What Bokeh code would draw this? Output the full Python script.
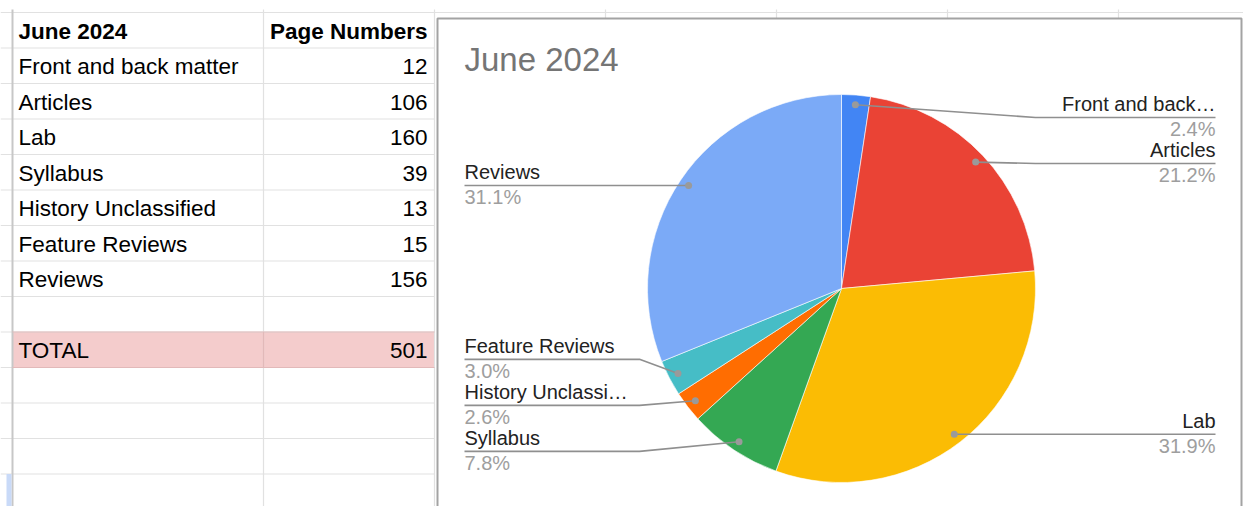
import math
from bokeh.plotting import figure
from bokeh.models import Range1d
from bokeh.core.properties import value
from bokeh.embed import file_html
from bokeh.resources import INLINE

# ---------------- data ----------------
chart_title = "June 2024"
header_labels = ["June 2024", "Page Numbers"]
categories = ["Front and back matter", "Articles", "Lab", "Syllabus",
              "History Unclassified", "Feature Reviews", "Reviews"]
pages = [12, 106, 160, 39, 13, 15, 156]
chart_labels = ["Front and back\u2026", "Articles", "Lab", "Syllabus",
                "History Unclassi\u2026", "Feature Reviews", "Reviews"]
total_label = "TOTAL"
slice_colors = ["#4285f4", "#ea4335", "#fbbc04", "#34a853",
                "#ff6d01", "#46bdc6", "#7baaf7"]

# ---------------- layout ----------------
W, H = 1243, 506
OX, OY = 0, 0
FONT = value("Liberation Sans")

p = figure(width=W, height=H, x_range=Range1d(OX, OX + W),
           y_range=Range1d(-(OY + H), -OY), output_backend="svg",
           toolbar_location=None, min_border=0,
           x_axis_location=None, y_axis_location=None)
p.grid.visible = False
p.outline_line_color = None
p.background_fill_color = "white"
p.border_fill_color = "white"


def Y(v):
    return [-a for a in v] if isinstance(v, (list, tuple)) else -v


# ---------------- spreadsheet table ----------------
ROW_H = 35.5
TOP = 12.0
COL_L, COL_M, COL_R = 12, 263, 434
SHEET_COL_W = 171
n_lines = 15
row_y = [TOP + k * ROW_H for k in range(n_lines)]

total_row = len(categories) + 2
total_value = sum(pages)

# TOTAL row fill
p.quad(left=COL_L, right=COL_R, top=Y(row_y[total_row]), bottom=Y(row_y[total_row + 1]),
       fill_color="#f4cccc", line_color=None)

# horizontal grid lines
hx0 = [OX] * n_lines
hx1 = [OX + W if k == 0 else COL_R for k in range(n_lines)]
p.segment(x0=hx0, y0=Y(row_y), x1=hx1, y1=Y(row_y), line_color="#e1e1e1", line_width=1.2)
# vertical grid lines
p.segment(x0=[COL_M, COL_R], y0=[-9, -9], x1=[COL_M, COL_R], y1=[-(OY + H)] * 2,
          line_color="#e1e1e1", line_width=1.2)
p.segment(x0=[COL_L], y0=[-9], x1=[COL_L], y1=[-(OY + H)], line_color="#c7c7c7", line_width=2)
sheet_cols = [COL_R + j * SHEET_COL_W for j in range(1, 5)]
p.segment(x0=sheet_cols, y0=[-9] * 4, x1=sheet_cols, y1=[-18] * 4,
          line_color="#e1e1e1", line_width=1.2)
# TOTAL row borders
p.segment(x0=[COL_L, COL_L], y0=Y([row_y[total_row], row_y[total_row + 1]]),
          x1=[COL_R, COL_R], y1=Y([row_y[total_row], row_y[total_row + 1]]),
          line_color="#e2b9b9", line_width=1.2)
p.segment(x0=[COL_M], y0=Y([row_y[total_row]]), x1=[COL_M], y1=Y([row_y[total_row + 1]]),
          line_color="#e2b9b9", line_width=1.2)
# selection marker on row header
p.quad(left=6, right=COL_L - 1, top=Y(row_y[13]), bottom=-(OY + H),
       fill_color="#c9daf8", line_color=None)

MID_OFF = 16.7
TXT_L = 18
TXT_R = 427
TSIZE = "22.5px"

# header
hy = -(row_y[1] - MID_OFF)
p.text(x=[TXT_L], y=[hy], text=[header_labels[0]],
       text_font=FONT, text_font_size=TSIZE, text_font_style="bold",
       text_baseline="middle", text_align="left", text_color="#000000")
p.text(x=[TXT_R], y=[hy], text=[header_labels[1]],
       text_font=FONT, text_font_size=TSIZE, text_font_style="bold",
       text_baseline="middle", text_align="right", text_color="#000000")

data_mid = [row_y[i + 2] - MID_OFF for i in range(len(categories))]
p.text(x=[TXT_L] * len(categories), y=Y(data_mid), text=categories,
       text_font=FONT, text_font_size=TSIZE, text_baseline="middle",
       text_align="left", text_color="#000000")
p.text(x=[TXT_R] * len(pages), y=Y(data_mid), text=[str(v) for v in pages],
       text_font=FONT, text_font_size=TSIZE, text_baseline="middle",
       text_align="right", text_color="#000000")
tm = -(row_y[total_row + 1] - MID_OFF)
p.text(x=[TXT_L], y=[tm], text=[total_label], text_font=FONT, text_font_size=TSIZE,
       text_baseline="middle", text_align="left", text_color="#000000")
p.text(x=[TXT_R], y=[tm], text=[str(total_value)], text_font=FONT, text_font_size=TSIZE,
       text_baseline="middle", text_align="right", text_color="#000000")

# ---------------- chart box ----------------
BOX_L, BOX_T, BOX_R, BOX_B = 437, 18, 1241, 520
p.quad(left=BOX_L, right=BOX_R, top=-BOX_T, bottom=-BOX_B,
       fill_color="white", line_color="#a3a3a3", line_width=2)

p.text(x=[464], y=[-58.5], text=[chart_title], text_font=FONT, text_font_size="33px",
       text_baseline="middle", text_align="left", text_color="#757575")

# ---------------- pie ----------------
CX, CY, R = 841.0, 288.0, 194.0
fr = [v / total_value for v in pages]
cum = [0.0]
for f in fr:
    cum.append(cum[-1] + f)
start = [math.pi / 2 - 2 * math.pi * cum[i + 1] for i in range(len(fr))]
end = [math.pi / 2 - 2 * math.pi * cum[i] for i in range(len(fr))]
p.wedge(x=[CX] * len(fr), y=[-CY] * len(fr), radius=R, start_angle=start, end_angle=end,
        direction="anticlock", fill_color=slice_colors, line_color="white", line_width=0.6)

# label anchors
R_DOT = 0.95 * R
mid = [2 * math.pi * (cum[i] + fr[i] / 2) for i in range(len(fr))]  # clockwise from top
dot_x = [CX + R_DOT * math.sin(a) for a in mid]
dot_y = [CY - R_DOT * math.cos(a) for a in mid]
right_side = [a < math.pi for a in mid]

GAP = 46.0
Y_MIN = CY - R + 23
Y_MAX = CY + R - 24


def place(idxs):
    idxs = sorted(idxs, key=lambda i: dot_y[i])
    clusters = [[i] for i in idxs]
    pos = {}

    def centre(cl):
        m = sum(dot_y[i] for i in cl) / len(cl)
        return m - GAP * (len(cl) - 1) / 2

    changed = True
    while changed:
        changed = False
        for k in range(len(clusters) - 1):
            a, b = clusters[k], clusters[k + 1]
            if centre(a) + GAP * len(a) > centre(b):
                clusters[k] = a + b
                del clusters[k + 1]
                changed = True
                break
    for cl in clusters:
        c = centre(cl)
        for j, i in enumerate(cl):
            pos[i] = c + j * GAP
    order = idxs
    pos[order[0]] = max(pos[order[0]], Y_MIN)
    for k in range(1, len(order)):
        pos[order[k]] = max(pos[order[k]], pos[order[k - 1]] + GAP)
    pos[order[-1]] = min(pos[order[-1]], Y_MAX)
    for k in range(len(order) - 2, -1, -1):
        pos[order[k]] = min(pos[order[k]], pos[order[k + 1]] - GAP)
    return pos


line_y = {}
line_y.update(place([i for i in range(len(fr)) if right_side[i]]))
line_y.update(place([i for i in range(len(fr)) if not right_side[i]]))

LBL_R = 1215
LBL_L = 464
ELB_R = CX + R
ELB_L = CX - R - 8

xs, ys = [], []
for i in range(len(fr)):
    ly = line_y[i]
    if right_side[i]:
        ex = max(ELB_R, dot_x[i])
        xs.append([dot_x[i], ex, LBL_R])
    else:
        ex = min(ELB_L, dot_x[i])
        xs.append([dot_x[i], ex, LBL_L])
    ys.append([-dot_y[i], -ly, -ly])
p.multi_line(xs=xs, ys=ys, line_color="#8f8f8f", line_width=1.6)
p.scatter(x=dot_x, y=Y(dot_y), size=7, fill_color="#9a9a9a", line_color=None)

lx = [LBL_R if right_side[i] else LBL_L for i in range(len(fr))]
la = ["right" if right_side[i] else "left" for i in range(len(fr))]
name_y = [-(line_y[i] - 13.7) for i in range(len(fr))]
pct_y = [-(line_y[i] + 11.3) for i in range(len(fr))]
pct_txt = [f"{f * 100:.1f}%" for f in fr]
p.text(x=lx, y=name_y, text=chart_labels, text_align=la, text_baseline="middle",
       text_font=FONT, text_font_size="20px", text_color="#222222")
p.text(x=lx, y=pct_y, text=pct_txt, text_align=la, text_baseline="middle",
       text_font=FONT, text_font_size="20px", text_color="#9e9e9e")

open("out.html", "w").write(file_html(p, INLINE))
